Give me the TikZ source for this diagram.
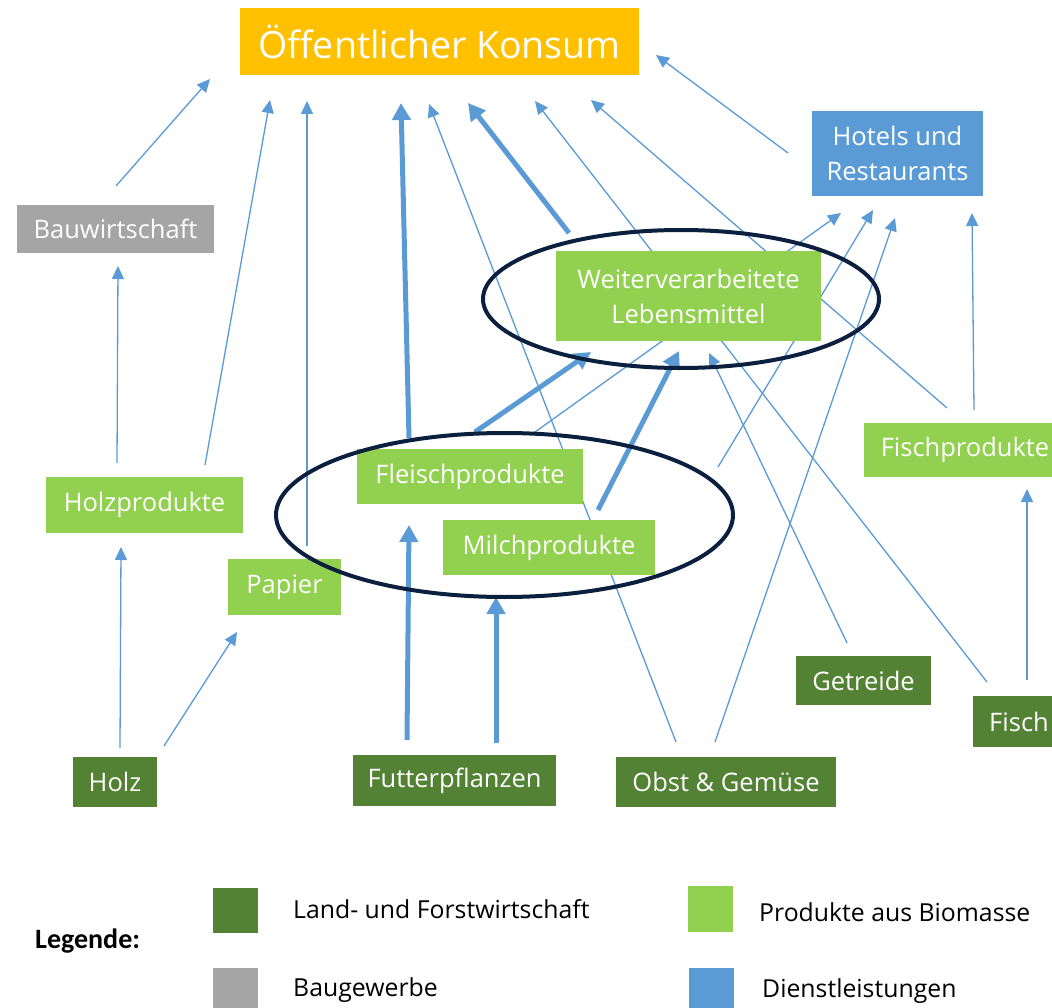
\documentclass[tikz,border=0pt]{standalone}
\usepackage{fontspec}
\setmainfont{Open Sans}
\newfontfamily\legbold{Carlito}
\usetikzlibrary{arrows.meta}
\definecolor{dgreen}{HTML}{548235}
\definecolor{lgreen}{HTML}{92D050}
\definecolor{bgray}{HTML}{A5A5A5}
\definecolor{sblue}{HTML}{5B9BD5}
\definecolor{kgold}{HTML}{FFC000}
\definecolor{navy}{HTML}{0B1F3F}
\definecolor{arrblue}{HTML}{5B9BD5}
\pgfdeclarelayer{paper}
\pgfdeclarelayer{bg}
\pgfsetlayers{paper,bg,main}
\begin{document}
\begin{tikzpicture}[x=1pt,y=-1pt,
  box/.style={draw=none, text=white, inner sep=0pt, align=center,
    font=\fontsize{25.5}{35}\selectfont},
  raw/.style={box, fill=dgreen},
  prod/.style={box, fill=lgreen},
  thinarr/.style={draw=arrblue, line width=1.3pt,
    -{Triangle[length=13pt,width=12pt]}},
  bigarr/.style={draw=arrblue, line width=5pt,
    -{Triangle[length=17pt,width=18pt]}},
  ellip/.style={draw=navy, line width=4pt},
  legsq/.style={draw=none, inner sep=0pt, minimum width=45pt},
  legtxt/.style={anchor=west, inner sep=0pt, text=black,
    font=\fontsize{24.8}{28}\selectfont}
]
\useasboundingbox (0,0) rectangle (1052,1008);
\begin{pgfonlayer}{paper}
\fill[white] (0,0) rectangle (1052,1008);
\end{pgfonlayer}

% ---------- nodes ----------
\node[box, fill=kgold, minimum width=399pt, minimum height=67pt,
  font=\fontsize{37.5}{42}\selectfont] (konsum) at (439.5,41.5) {Öffentlicher Konsum};
\node[box, fill=bgray, minimum width=197pt, minimum height=48pt] (bau) at (115.5,229) {Bauwirtschaft};
\node[box, fill=sblue, minimum width=171pt, minimum height=85pt] (hotels) at (897.5,153.5) {Hotels und\\Restaurants};
\node[prod, minimum width=265pt, minimum height=90pt] (weiter) at (688.5,296) {Weiterverarbeitete\\Lebensmittel};
\node[prod, minimum width=226pt, minimum height=55pt] (fleisch) at (470,476.5) {Fleischprodukte};
\node[prod, minimum width=212pt, minimum height=55pt] (milch) at (549,547.5) {Milchprodukte};
\node[prod, minimum width=197pt, minimum height=56pt] (holzprod) at (144.5,505) {Holzprodukte};
\node[prod, minimum width=113pt, minimum height=56pt] (papier) at (284.5,587) {Papier};
\node[prod, minimum width=202pt, minimum height=54pt] (fischprod) at (965,450) {Fischprodukte};
\node[raw, minimum width=84pt, minimum height=50pt] (holz) at (115,782) {Holz};
\node[raw, minimum width=203pt, minimum height=51pt] (futter) at (454.5,780.5) {Futterpflanzen};
\node[raw, minimum width=220pt, minimum height=50pt] (obst) at (726,782) {Obst \& Gemüse};
\node[raw, minimum width=135pt, minimum height=49pt] (getreide) at (863.5,680.5) {Getreide};
\node[raw, minimum width=92pt, minimum height=51pt] (fisch) at (1019,721.5) {Fisch};

% ---------- connector end points ----------
\coordinate (bauT) at (116,186);      \coordinate (bauH) at (210,79);
\coordinate (hpKT) at (205,465);      \coordinate (hpKH) at (270,100);
\coordinate (papKT) at (307,546);     \coordinate (papKH) at (307,101);
\coordinate (flKT) at (409,438);      \coordinate (flKH) at (401,103);
\coordinate (obKT) at (676,742);      \coordinate (obKH) at (429,104);
\coordinate (wvKT) at (569,233);      \coordinate (wvKH) at (468,103);
\coordinate (fiKT) at (987,682);      \coordinate (fiKH) at (535,101);
\coordinate (fpKT) at (947,408);      \coordinate (fpKH) at (591,100);
\coordinate (hoKT) at (788,153);      \coordinate (hoKH) at (656,55);
\coordinate (flHT) at (535,432);      \coordinate (flHH) at (841,213);
\coordinate (miHT) at (718,467);      \coordinate (miHH) at (873,210);
\coordinate (obHT) at (715,742);      \coordinate (obHH) at (895,218);
\coordinate (fpHT) at (974,410);      \coordinate (fpHH) at (972,213);
\coordinate (fiFT) at (1027,680);     \coordinate (fiFH) at (1027,489);
\coordinate (flWT) at (475,432);      \coordinate (flWH) at (591,352);
\coordinate (miWT) at (598,510);      \coordinate (miWH) at (679,351);
\coordinate (geWT) at (847,643);      \coordinate (geWH) at (709,353);
\coordinate (hoHT) at (120,748);      \coordinate (hoHH) at (121,547);
\coordinate (hoPT) at (164,746);      \coordinate (hoPH) at (237,632);
\coordinate (hpBT) at (117,463);      \coordinate (hpBH) at (118,266);
\coordinate (fuFT) at (407,740);      \coordinate (fuFH) at (409,525);
\coordinate (fuMT) at (496,743);      \coordinate (fuMH) at (496,597);

% ---------- connectors (behind the boxes) ----------
\begin{pgfonlayer}{bg}
\draw[thinarr] (bauT) -- (bauH);
\draw[thinarr] (hpKT) -- (hpKH);
\draw[thinarr] (papKT) -- (papKH);
\draw[bigarr]  (flKT) -- (flKH);
\draw[thinarr] (obKT) -- (obKH);
\draw[bigarr]  (wvKT) -- (wvKH);
\draw[thinarr] (fiKT) -- (fiKH);
\draw[thinarr] (fpKT) -- (fpKH);
\draw[thinarr] (hoKT) -- (hoKH);
\draw[thinarr] (flHT) -- (flHH);
\draw[thinarr] (miHT) -- (miHH);
\draw[thinarr] (obHT) -- (obHH);
\draw[thinarr] (fpHT) -- (fpHH);
\draw[thinarr] (fiFT) -- (fiFH);
\draw[bigarr]  (flWT) -- (flWH);
\draw[bigarr]  (miWT) -- (miWH);
\draw[thinarr] (geWT) -- (geWH);
\draw[thinarr] (hoHT) -- (hoHH);
\draw[thinarr] (hoPT) -- (hoPH);
\draw[thinarr] (hpBT) -- (hpBH);
\draw[bigarr]  (fuFT) -- (fuFH);
\draw[bigarr]  (fuMT) -- (fuMH);
\end{pgfonlayer}

% ---------- group ellipses ----------
\draw[ellip] (681,299) ellipse [x radius=198, y radius=69];
\draw[ellip] (504.5,515) ellipse [x radius=228.5, y radius=82];

% ---------- legend ----------
\node[anchor=west, inner sep=0pt, font=\legbold\bfseries\fontsize{28}{30}\selectfont] (legende) at (35,941) {Legende:};
\node[legsq, fill=dgreen, minimum height=45pt] (sq1) at (235.5,910.5) {};
\node[legsq, fill=bgray, minimum height=46pt] (sq2) at (235.5,991) {};
\node[legsq, fill=lgreen, minimum height=46pt] (sq3) at (710,909) {};
\node[legsq, fill=sblue, minimum height=46pt] (sq4) at (711.5,991) {};
\node[legtxt] (lt1) at (293,909) {Land- und Forstwirtschaft};
\node[legtxt] (lt2) at (293,990) {Baugewerbe};
\node[legtxt] (lt3) at (759,912) {Produkte aus Biomasse};
\node[legtxt] (lt4) at (762,991) {Dienstleistungen};
\end{tikzpicture}
\end{document}
